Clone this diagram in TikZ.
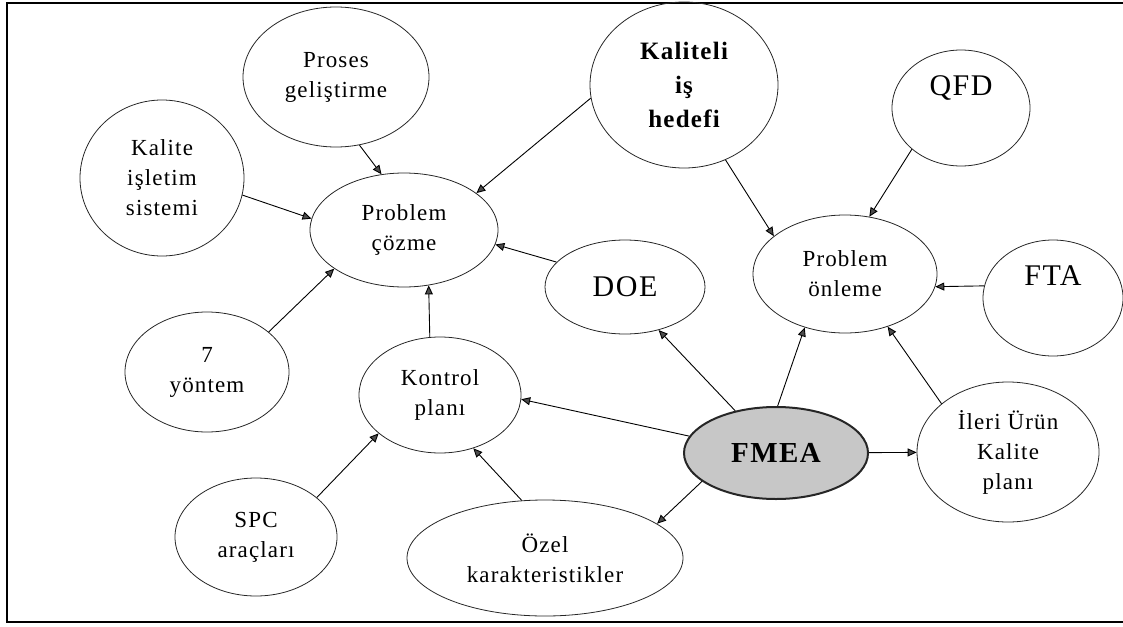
\documentclass[tikz,border=0pt]{standalone}
\usepackage{fontspec}
\setmainfont{Liberation Serif}[LetterSpace=5]
\usetikzlibrary{arrows.meta,shapes.geometric}

\begin{document}
\begin{tikzpicture}[x=1pt,y=-1pt,
  bub/.style={draw=black!85,ellipse,inner sep=0pt,line width=0.8pt,align=center,
    font=\fontsize{23}{30}\selectfont},
  big/.style={font=\fontsize{30}{34}\selectfont},
  arr/.style={line width=0.9pt,-{Triangle[length=9pt,width=8pt,fill=black!70]}}]
  \useasboundingbox (0,0) rectangle (1123,626);
  % frame, open on the right
  \draw[line width=1.4pt] (1123,3) -- (7,3) -- (7,622) -- (1123,622);

  % left group
  \node[bub,minimum width=186pt,minimum height=140pt] (proses) at (336,77) {Proses\\ geliştirme};
  \node[bub,minimum width=164pt,minimum height=156pt] (isletim) at (162,178) {Kalite\\ işletim\\ sistemi};
  \node[bub,minimum width=188pt,minimum height=114pt] (cozme) at (404,230) {Problem\\ çözme};
  \node[bub,minimum width=164pt,minimum height=120pt] (yontem) at (207,372) {7\\ yöntem};
  \node[bub,minimum width=162pt,minimum height=116pt] (kontrol) at (440,395) {Kontrol\\ planı};
  \node[bub,minimum width=162pt,minimum height=118pt] (spc) at (256,537) {SPC\\ araçları};
  \node[bub,minimum width=276pt,minimum height=116pt] (ozel) at (545,558) {Özel\\ karakteristikler};

  % right group
  \node[bub,minimum width=188pt,minimum height=166pt,font=\fontsize{25}{34}\selectfont\bfseries] (hedef) at (684,85) {Kaliteli\\ iş\\ hedefi};
  \node[bub,big,minimum width=138pt,minimum height=116pt] (qfd) at (961,108) {QFD\\[10pt]};
  \node[bub,minimum width=184pt,minimum height=118pt] (onleme) at (845,274) {Problem\\ önleme};
  \node[bub,big,minimum width=160pt,minimum height=94pt] (doe) at (625,287) {DOE};
  \node[bub,big,minimum width=140pt,minimum height=116pt] (fta) at (1053,298) {FTA\\[10pt]};
  \node[bub,minimum width=182pt,minimum height=140pt] (ileri) at (1008,452) {İleri Ürün\\ Kalite\\ planı};
  \node[bub,minimum width=184pt,minimum height=92pt,line width=2pt,fill=black!22,
    font=\fontsize{29}{32}\selectfont\bfseries] (fmea) at (776,453) {FMEA};

  % into problem cozme
  \draw[arr] (proses.-71) -- (cozme.112);
  \draw[arr] (isletim.-12) -- (cozme.173);
  \draw[arr] (hedef.-172) -- (cozme.27);
  \draw[arr] (doe.160) -- (cozme.-9);
  \draw[arr] (yontem.33) -- (cozme.-151);
  \draw[arr] (kontrol.100) -- (cozme.-66);

  % into problem onleme
  \draw[arr] (hedef.-61) -- (onleme.152);
  \draw[arr] (qfd.-140) -- (onleme.67);
  \draw[arr] (fta.170) -- (onleme.-8);
  \draw[arr] (ileri.144) -- (onleme.-51);

  % out of FMEA
  \draw[arr] (fmea.134) -- (doe.-52);
  \draw[arr] (fmea.88) -- (onleme.-127);
  \draw[arr] (fmea) -- (ileri);
  \draw[arr] (fmea.-159) -- (ozel.17);
  \draw[arr] (fmea.169) -- (kontrol.-3);

  % into kontrol plani
  \draw[arr] (spc.33) -- (kontrol.-148);
  \draw[arr] (ozel.112) -- (kontrol.-58);
\end{tikzpicture}
\end{document}
